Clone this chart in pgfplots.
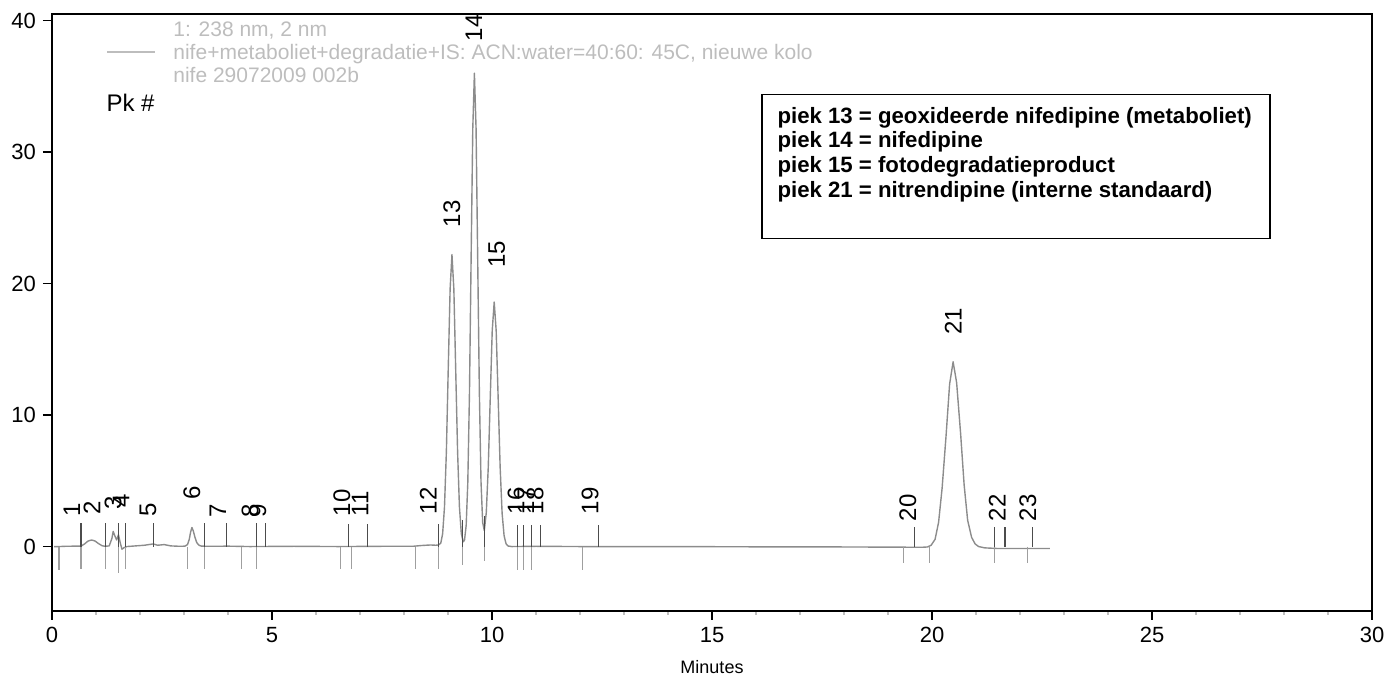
\documentclass[border=0pt]{standalone}
\usepackage{fontspec}
\setmainfont{Liberation Sans}
\usepackage{pgfplots}
\pgfplotsset{compat=1.18}
\definecolor{trace}{gray}{0.55}
\definecolor{hdr}{gray}{0.74}
\begin{document}
\begin{tikzpicture}
\begin{axis}[name=ax, scale only axis, width=660pt, height=298.5pt,
  xmin=0, xmax=30, ymin=-4.9, ymax=40.5, clip=false,
  xtick={0,5,...,30}, ytick={0,10,20,30,40}, minor x tick num=4,
  tick align=outside, major tick length=4.5pt, minor tick length=2pt,
  xtick pos=bottom, ytick pos=left,
  minor tick style={gray!50},
  axis line style={line width=0.9pt},
  tick style={black, line width=0.8pt},
  tick label style={font=\fontsize{11}{12}\selectfont},
  /pgf/number format/assume math mode=true,
  xlabel={Minutes}, xlabel style={font=\fontsize{9}{10}\selectfont, yshift=-2pt},
  unbounded coords=jump,
]
% chromatogram trace
\addplot[trace, line width=0.7pt, line join=round] coordinates {
(0.05,0) (0.16,0) (0.30,0.02) (0.50,0.03) (0.66,0.03) (0.74,0.2) (0.82,0.42) (0.90,0.5) (0.98,0.42) (1.06,0.22) (1.14,0.06) (1.21,0.02)
(1.30,0.05) (1.36,0.6) (1.39,1.15) (1.43,0.8) (1.47,0.5) (1.51,0.9) (1.55,0.3) (1.59,-0.2) (1.64,-0.08) (1.70,0.0)
(1.9,0.05) (2.1,0.1) (2.2,0.15) (2.3,0.2) (2.4,0.1) (2.55,0.15) (2.7,0.05) (2.9,0.02)
(3.02,0.03) (3.08,0.15) (3.12,0.55) (3.15,1.1) (3.18,1.45) (3.21,1.2) (3.25,0.7) (3.29,0.3) (3.34,0.1) (3.40,0.03)
(3.6,0.02) (4.0,0.03) (4.5,0.0) (5.5,0.02) (6.5,0.0) (7.5,0.02) (8.2,0.02) (8.4,0.08) (8.6,0.12) (8.72,0.1) (8.78,0.12)
(8.835,0.25) (8.878,0.97) (8.92,3.0) (8.963,7.21) (9.005,13.46) (9.048,19.59) (9.09,22.2) (9.133,19.59) (9.175,13.46) (9.218,7.21) (9.26,3.0) (9.303,0.98) (9.345,0.36)
(9.375,0.48) (9.413,1.60) (9.45,4.87) (9.488,11.69) (9.525,21.83) (9.563,31.77) (9.60,36.0) (9.638,31.77) (9.675,21.83) (9.713,11.69) (9.75,4.94) (9.788,1.84) (9.825,1.22)
(9.87,2.57) (9.915,6.04) (9.96,11.28) (10.005,16.41) (10.05,18.6) (10.095,16.41) (10.14,11.28) (10.185,6.04) (10.23,2.52) (10.275,0.82) (10.32,0.21) (10.365,0.04)
(10.45,0.0) (11.0,0.02) (12,0) (14,0) (16,-0.02) (18,-0.03) (19.5,-0.05) (19.8,-0.05) (19.90,-0.03)
(19.98,0.1) (20.07,0.55) (20.15,1.85) (20.23,4.45) (20.32,8.45) (20.40,12.35) (20.48,14.05) (20.56,12.45) (20.65,8.6) (20.73,4.7) (20.81,2.0) (20.90,0.7) (20.98,0.2) (21.06,0.0)
(21.2,-0.1) (21.5,-0.15) (22.0,-0.15) (22.68,-0.15)
};
% peak markers above baseline
\addplot[black!70, line width=0.55pt] coordinates {
(0.66,0) (0.66,1.8) (0.66,nan)
(1.21,0) (1.21,1.8) (1.21,nan)
(1.52,0) (1.52,1.8) (1.52,nan)
(1.68,0) (1.68,1.8) (1.68,nan)
(2.31,0) (2.31,1.8) (2.31,nan)
(3.47,0) (3.47,1.8) (3.47,nan)
(3.96,0) (3.96,1.8) (3.96,nan)
(4.64,0) (4.64,1.8) (4.64,nan)
(4.85,0) (4.85,1.8) (4.85,nan)
(6.74,0) (6.74,1.7) (6.74,nan)
(7.17,0) (7.17,1.7) (7.17,nan)
(8.78,0) (8.78,1.7) (8.78,nan)
(9.33,0) (9.33,2.0) (9.33,nan)
(9.83,0) (9.83,2.3) (9.83,nan)
(10.58,0) (10.58,1.67) (10.58,nan)
(10.71,0) (10.71,1.67) (10.71,nan)
(10.90,0) (10.90,1.67) (10.90,nan)
(11.11,0) (11.11,1.67) (11.11,nan)
(12.42,0) (12.42,1.67) (12.42,nan)
(19.61,0) (19.61,1.5) (19.61,nan)
(21.43,0) (21.43,1.5) (21.43,nan)
(21.66,0) (21.66,1.5) (21.66,nan)
(22.29,0) (22.29,1.5)
};
% peak start/end markers below baseline
\addplot[gray!75, line width=0.55pt] coordinates {
(0.16,0) (0.16,-1.75) (0.16,nan)
(0.66,0) (0.66,-1.7) (0.66,nan)
(1.21,0) (1.21,-1.7) (1.21,nan)
(1.52,0) (1.52,-2.0) (1.52,nan)
(1.68,0) (1.68,-1.7) (1.68,nan)
(3.08,0) (3.08,-1.7) (3.08,nan)
(3.47,0) (3.47,-1.7) (3.47,nan)
(4.30,0) (4.30,-1.7) (4.30,nan)
(4.64,0) (4.64,-1.7) (4.64,nan)
(6.56,0) (6.56,-1.7) (6.56,nan)
(6.81,0) (6.81,-1.7) (6.81,nan)
(8.27,0) (8.27,-1.7) (8.27,nan)
(8.78,0) (8.78,-1.7) (8.78,nan)
(9.33,0) (9.33,-1.4) (9.33,nan)
(9.83,0) (9.83,-1.1) (9.83,nan)
(10.58,0) (10.58,-1.75) (10.58,nan)
(10.71,0) (10.71,-1.75) (10.71,nan)
(10.90,0) (10.90,-1.75) (10.90,nan)
(12.05,0) (12.05,-1.75) (12.05,nan)
(19.35,0) (19.35,-1.25) (19.35,nan)
(19.94,0) (19.94,-1.25) (19.94,nan)
(21.43,0) (21.43,-1.25) (21.43,nan)
(22.17,0) (22.17,-1.25)
};
% peak number labels
\addplot[draw=none, mark=none, point meta=explicit symbolic,
  nodes near coords,
  every node near coord/.append style={rotate=90, anchor=west, inner sep=0pt, text=black, font=\fontsize{12}{12}\selectfont}]
coordinates {
(0.45,2.28) [1] (0.91,2.43) [2] (1.39,2.81) [3] (1.57,2.97) [4] (2.18,2.28) [5]
(3.18,3.57) [6] (3.77,2.2) [7] (4.50,2.2) [8] (4.68,2.2) [9] (6.59,2.28) [10] (7.00,2.28) [11]
(8.55,2.43) [12] (9.09,24.26) [13] (9.59,38.4) [14] (10.11,21.2) [15]
(10.55,2.43) [16] (10.77,2.43) [17] (10.98,2.43) [18] (12.23,2.43) [19]
(19.45,1.9) [20] (20.48,16.1) [21] (21.48,1.9) [22] (22.18,1.9) [23]
};
% header (faint)
\node[anchor=base west, text=hdr, font=\fontsize{10.5}{12}\selectfont, inner sep=0pt] at (axis cs:2.75,38.78) {1: 238 nm, 2 nm};
\draw[hdr, line width=0.7pt] (axis cs:1.25,37.6) -- (axis cs:2.34,37.6);
\node[anchor=base west, text=hdr, font=\fontsize{10.5}{12}\selectfont, inner sep=0pt] at (axis cs:2.75,37.03) {nife+metaboliet+degradatie+IS: ACN:water=40:60: 45C, nieuwe kolo};
\node[anchor=base west, text=hdr, font=\fontsize{10.5}{12}\selectfont, inner sep=0pt] at (axis cs:2.75,35.29) {nife 29072009 002b};
\node[anchor=base west, font=\fontsize{12}{12}\selectfont, inner sep=0pt] at (axis cs:1.23,33.08) {Pk \#};
% info box
\draw[black, line width=0.8pt] (axis cs:16.14,23.42) rectangle (axis cs:27.68,34.37);
\node[anchor=base west, font=\bfseries\fontsize{11.1}{12}\selectfont, inner sep=0pt] at (axis cs:16.48,32.20) {piek 13 = geoxideerde nifedipine (metaboliet)};
\node[anchor=base west, font=\bfseries\fontsize{11.1}{12}\selectfont, inner sep=0pt] at (axis cs:16.48,30.35) {piek 14 = nifedipine};
\node[anchor=base west, font=\bfseries\fontsize{11.1}{12}\selectfont, inner sep=0pt] at (axis cs:16.48,28.47) {piek 15 = fotodegradatieproduct};
\node[anchor=base west, font=\bfseries\fontsize{11.1}{12}\selectfont, inner sep=0pt] at (axis cs:16.48,26.57) {piek 21 = nitrendipine (interne standaard)};
\end{axis}
\pgfresetboundingbox
\path[use as bounding box] ([xshift=-26pt,yshift=-36.5pt]ax.south west) rectangle ([xshift=13pt,yshift=7pt]ax.north east);
\end{tikzpicture}
\end{document}
